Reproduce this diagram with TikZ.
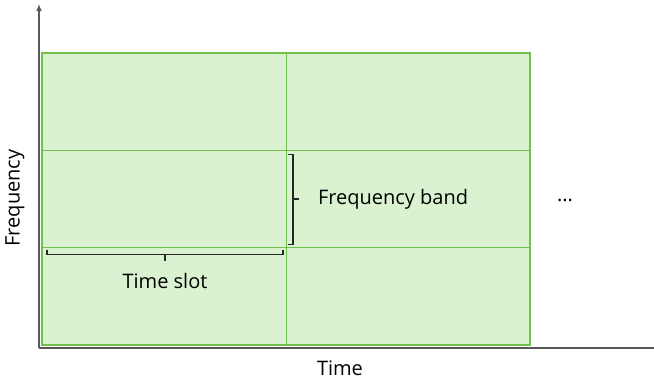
\documentclass[tikz,border=0pt]{standalone}
\usepackage{fontspec}
\setmainfont{Open Sans}
\usetikzlibrary{arrows.meta,positioning,calc}
\definecolor{cellfill}{HTML}{DAF2D0}
\definecolor{cellline}{HTML}{70C050}
\definecolor{axisgray}{HTML}{595959}

\begin{document}
\begin{tikzpicture}[
  x=0.5pt, y=0.5pt,
  font=\fontsize{10}{12}\selectfont,
  cell/.style={draw=cellline, fill=cellfill, line width=0.5pt, outer sep=0pt,
    minimum width=122pt, minimum height=48.67pt, inner sep=0pt},
  frame/.style={draw=cellline, line width=0.8pt},
  axis/.style={draw=axisgray, line width=1pt},
  brk/.style={draw=black!85, line width=0.55pt}
]
\useasboundingbox[fill=white] (0,0) rectangle (654,380);

% time-frequency grid
\node[cell, anchor=north west] (c11) at (42,327) {};
\node[cell, right=0pt of c11] (c12) {};
\node[cell, below=0pt of c11] (c21) {};
\node[cell, right=0pt of c21] (c22) {};
\node[cell, below=0pt of c21] (c31) {};
\node[cell, right=0pt of c31] (c32) {};
\draw[frame] (c11.north west) rectangle (c32.south east);

% axes
\coordinate (o) at (39,32);
\coordinate (ytop) at (39,376);
\coordinate (xend) at (654,32);
\draw[axis, -{Latex[length=3.5pt,width=3pt]}] (o) -- (ytop);
\draw[axis] (o) -- (xend);
\node (tlab) at (340,12) {Time};
\node[rotate=90] (flab) at (15,182) {Frequency};

% frequency band bracket
\draw[brk] ($(c21.north east)+(2,-4)$) -- ++(5,0) -- ($(c21.south east)+(7,3)$) -- ++(-5,0);
\draw[brk] ($(c21.east)+(7,0)$) -- ++(6,0) coordinate (fb);
\node[right=6pt of fb] (fband) {Frequency band};

% time slot bracket
\draw[brk] ($(c21.south west)+(5,-2)$) -- ++(0,-5) -- ($(c21.south east)+(-3,-7)$) -- ++(0,5);
\draw[brk] ($(c21.south)+(1,-7)$) -- ++(0,-6) coordinate (ts);
\node[below=3pt of ts] (tslot) {Time slot};

\node (dots) at (565,180) {...};
\end{tikzpicture}
\end{document}
